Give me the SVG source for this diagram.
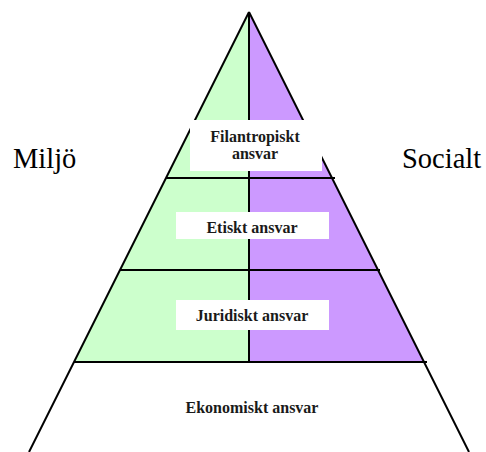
<svg xmlns="http://www.w3.org/2000/svg" width="486" height="452" viewBox="0 0 486 452">
<style>
.ln{stroke:#000;stroke-width:2;fill:none}
.box{fill:#fff}
.lbl{font-family:"Liberation Serif","Times New Roman",serif;font-weight:bold;font-size:16px;fill:#1a1a1a;text-anchor:middle}
.side{font-family:"Liberation Serif","Times New Roman",serif;font-size:28.5px;fill:#000}
</style>
<rect width="486" height="452" fill="#fff"/>
<g id="fills">
<polygon points="249,12 249,362 74,362" fill="#ccffcc"/>
<polygon points="249,12 424,362 249,362" fill="#cc99ff"/>
</g>
<g id="connectors">
<line class="ln" x1="249" y1="12" x2="29" y2="452"/>
<line class="ln" x1="249" y1="12" x2="469" y2="452"/>
<line class="ln" x1="249" y1="12" x2="249" y2="362"/>
<line class="ln" x1="166" y1="178" x2="335" y2="178"/>
<line class="ln" x1="120" y1="270" x2="380" y2="270"/>
<line class="ln" x1="74" y1="362" x2="427" y2="362"/>
</g>
<g id="filantropiskt">
<rect class="box" x="190" y="120" width="132" height="51"/>
<text class="lbl" x="255" y="142">Filantropiskt</text>
<text class="lbl" x="255" y="159">ansvar</text>
</g>
<g id="etiskt">
<rect class="box" x="176" y="212" width="153" height="27"/>
<text class="lbl" x="252" y="233">Etiskt ansvar</text>
</g>
<g id="juridiskt">
<rect class="box" x="176" y="300" width="153" height="30"/>
<text class="lbl" x="252" y="321">Juridiskt ansvar</text>
</g>
<g id="ekonomiskt">
<text class="lbl" x="252" y="413">Ekonomiskt ansvar</text>
</g>
<g id="miljo">
<text class="side" x="13" y="168">Miljö</text>
</g>
<g id="socialt">
<text class="side" x="402" y="168">Socialt</text>
</g>
</svg>
